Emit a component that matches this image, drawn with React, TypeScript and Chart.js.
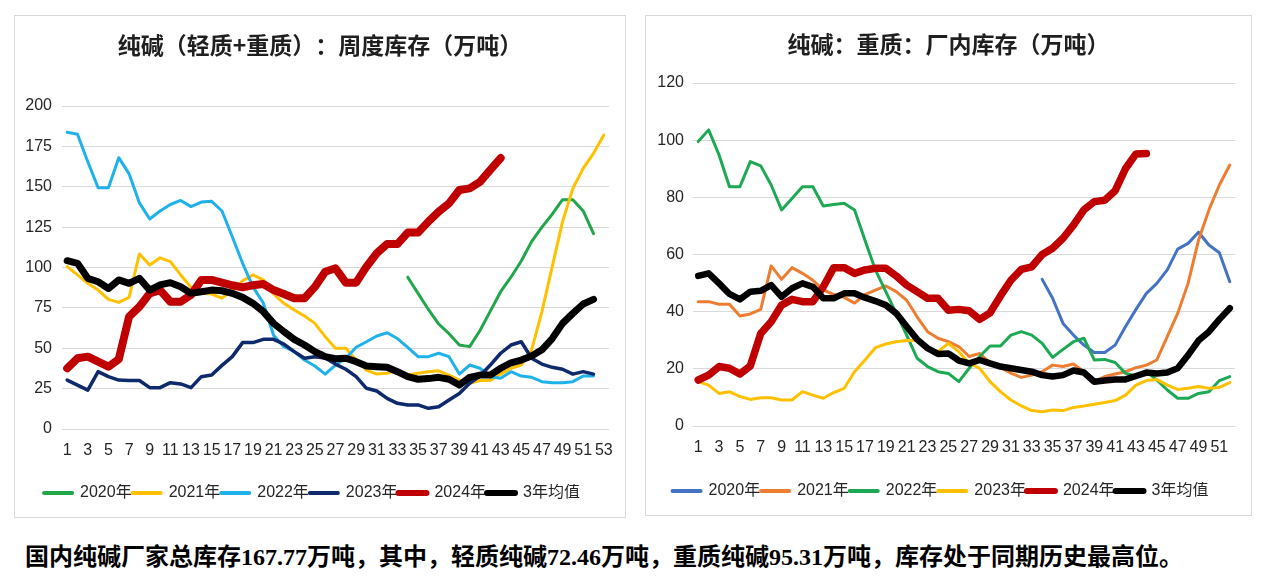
import React, { useEffect, useRef } from 'react';
import { Chart, registerables } from 'chart.js';

Chart.register(...registerables);

// ---------- categories (week numbers) ----------
const weeksLeft: string[] = ['1','2','3','4','5','6','7','8','9','10','11','12','13','14','15','16','17','18','19','20','21','22','23','24','25','26','27','28','29','30','31','32','33','34','35','36','37','38','39','40','41','42','43','44','45','46','47','48','49','50','51','52','53'];
const weeksRight: string[] = ['1','2','3','4','5','6','7','8','9','10','11','12','13','14','15','16','17','18','19','20','21','22','23','24','25','26','27','28','29','30','31','32','33','34','35','36','37','38','39','40','41','42','43','44','45','46','47','48','49','50','51','52'];

// ---------- left chart: 纯碱（轻质+重质）周度库存 ----------
const left2020: (number | null)[] = [null,null,null,null,null,null,null,null,null,null,null,null,null,null,null,null,null,null,null,null,null,null,null,null,null,null,null,null,null,null,null,null,null,
  94, 84, 74, 65, 59, 52, 51, 61, 73, 85, 94, 104, 116, 125, 133, 142, 142, 135, 121];
const left2021: number[] = [100.5, 95.4, 90.2, 86, 80.3, 78.4, 81.5, 108.4, 101.5, 106, 103.6, 95.4, 87.7, 84, 83.6, 81, 86, 91.8, 95.4, 92.3, 83.6, 77.8, 73.7, 70, 65.4, 57.2, 50, 50, 42.7, 36.5, 34, 34.5, 36.5, 33.4, 34.5, 35.5, 36, 33.4, 30.3, 28.3, 30, 30, 34, 37.6, 39.6, 49, 72.7, 100.5, 128.4, 149, 161.4, 170.7, 182];
const left2022: number[] = [183.7, 182.5, 165.5, 149.4, 149.4, 168, 158, 140, 130, 135, 139, 141.5, 137.7, 140.5, 141, 135, 119, 102.6, 88, 78, 58, 51, 48, 42.7, 39, 34, 39.6, 43.8, 50.6, 54, 57.6, 59.6, 56, 50.6, 44.8, 44.8, 46.9, 44.8, 34, 39.6, 37.6, 32.4, 31.4, 35.5, 32.8, 32, 29.3, 28.7, 28.7, 29.3, 32.8, 32.8];
const left2023: number[] = [30.3, 27.2, 24.1, 35.5, 32.4, 30.3, 30, 30, 25.6, 25.6, 28.7, 27.9, 25.6, 32.4, 33.4, 39.4, 44.8, 53.5, 53.5, 55.5, 55.5, 52.6, 47.9, 43.8, 44.8, 44, 40.2, 37, 32.4, 25.2, 23.5, 19, 15.9, 14.9, 14.9, 12.8, 13.8, 18, 22, 28.3, 32.8, 39.6, 46.9, 52, 54, 43.8, 40.2, 38.2, 37, 34, 35.5, 34];
const left2024: number[] = [37.6, 43.8, 44.8, 41.7, 38.6, 43.2, 69.6, 75.7, 84, 86, 78.8, 78.8, 83, 92.3, 92.3, 90.6, 89, 87.7, 89, 89.8, 86, 83.6, 81, 81, 88, 97.4, 99.5, 90.6, 90.6, 100.5, 108.8, 114.5, 114.5, 121.6, 121.6, 128.4, 134.6, 139.7, 148, 149, 153, 160.4, 167.77];
const leftAvg: number[] = [104.2, 102.6, 93.3, 91.2, 87, 92.3, 90.2, 93.3, 86, 89.2, 90.6, 88.1, 84, 85, 86, 85.6, 84, 81.5, 77.8, 72.7, 65.4, 60.3, 55.5, 52, 47.9, 44.8, 43.5, 43.8, 41.7, 39, 38.6, 38.2, 35.5, 32.4, 30.8, 31.2, 32, 30.8, 27.2, 32, 33.4, 33.4, 37.6, 41, 42.7, 45.2, 49, 56, 65.4, 71.6, 77.4, 80.3];

// ---------- right chart: 纯碱：重质：厂内库存 ----------
const right2020: (number | null)[] = [null,null,null,null,null,null,null,null,null,null,null,null,null,null,null,null,null,null,null,null,null,null,null,null,null,null,null,null,null,null,null,null,null,
  51.3, 44.7, 35.9, 31.8, 28.3, 25.7, 25.7, 28.3, 34.8, 40.8, 46.4, 49.9, 54.6, 61.9, 63.9, 67.8, 63.3, 60.6, 50.5];
const right2021: number[] = [43.5, 43.5, 42.6, 42.6, 38.5, 39.2, 40.8, 56, 51.3, 55.4, 53.4, 51, 47.6, 46, 45, 43, 46, 47.5, 49, 47, 44, 38.2, 33, 30.7, 29.5, 27.8, 24.3, 25.4, 22, 20.5, 18.5, 17, 17.8, 19, 21.3, 20.8, 21.7, 19, 15.5, 17.3, 18.2, 19, 20.4, 21.3, 23.1, 31.3, 39.4, 49.9, 65, 75.6, 84.3, 91.3];
const right2022: number[] = [99.5, 103.6, 94.8, 83.7, 83.7, 92.5, 91, 84.3, 75.6, 79.6, 83.7, 83.7, 77, 77.5, 77.9, 75.6, 65, 54.6, 47, 39.4, 31.8, 23.7, 20.8, 19, 18.4, 15.5, 20.2, 24.3, 28, 28, 31.8, 33, 31.8, 28.9, 24, 26.8, 29.5, 30.7, 23.1, 23.3, 22.2, 18.4, 17.5, 19, 16.1, 12.6, 9.7, 9.7, 11.4, 12, 15.9, 17.3];
const right2023: number[] = [15.5, 14.3, 11.4, 12, 10.3, 9.3, 9.9, 9.9, 9.1, 9.1, 12, 10.8, 9.7, 11.7, 13.2, 19, 23.1, 27.4, 28.7, 29.5, 29.9, 30, 27.5, 26, 28.9, 26, 21.9, 20.2, 15.5, 12, 9.1, 7, 5.4, 5, 5.6, 5.4, 6.5, 7, 7.6, 8.2, 8.9, 10.8, 14.3, 15.9, 16.3, 14.3, 12.8, 13.2, 13.8, 13.2, 13.5, 15.2];
const right2024: number[] = [16.1, 17.8, 20.8, 20.2, 18.2, 21, 32.4, 36.5, 42.3, 44.3, 43.5, 43.5, 48.7, 55.4, 55.4, 53.4, 54.6, 55.2, 55.2, 52.5, 49.3, 47, 44.7, 44.7, 40.5, 40.8, 40.3, 37.3, 39.6, 45.5, 51, 54.8, 55.7, 60, 62.2, 65.7, 70.3, 75.6, 78.5, 79, 82.3, 90.1, 95.2, 95.31];
const rightAvg: number[] = [52.5, 53.4, 49.9, 46.2, 44.3, 47, 47.3, 49.3, 45.2, 48.2, 49.9, 48.7, 44.7, 44.7, 46.4, 46.4, 44.9, 43.7, 42.3, 39.4, 34.8, 30.3, 27.2, 25.2, 25.4, 22.9, 21.9, 23.1, 21.9, 20.8, 20.2, 19.6, 19, 17.8, 17.3, 17.8, 19.4, 18.7, 15.5, 15.9, 16.3, 16.3, 17.5, 18.7, 18.4, 18.7, 20.2, 24.8, 29.9, 33, 37.3, 41.2];

const seriesNames: string[] = ['2020年', '2021年', '2022年', '2023年', '2024年', '3年均值'];
const leftColors: string[] = ['#21A649', '#FFC000', '#1EB1EA', '#0E2A6C', '#C00000', '#000000'];
const rightColors: string[] = ['#4472C4', '#ED7D31', '#1DA954', '#FFC000', '#C00000', '#000000'];

const leftTitle = '纯碱（轻质+重质）：周度库存（万吨）';
const rightTitle = '纯碱：重质：厂内库存（万吨）';
const caption = '国内纯碱厂家总库存167.77万吨，其中，轻质纯碱72.46万吨，重质纯碱95.31万吨，库存处于同期历史最高位。';

const TICK_FONT = "'Liberation Sans', 'Noto Sans CJK SC', sans-serif";
const TITLE_FONT = "'Noto Sans CJK SC', 'Noto Sans', sans-serif";
const TEXT_COLOR = '#262626';

type Cfg = {
  labels: string[];
  data: (number | null)[][];
  colors: string[];
  widths: number[];
  legendWidths: number[];
  yMax: number;
  yStep: number;
  yPad: number;
  top: number;
  xHeight: number;
  xPad: number;
};

function buildConfig(p: Cfg): any {
  const n = p.data.length;
  return {
    type: 'line',
    data: {
      labels: p.labels,
      datasets: p.data.map((d, i) => ({
        label: seriesNames[i],
        data: d,
        borderColor: p.colors[i],
        backgroundColor: p.colors[i],
        borderWidth: p.widths[i],
        pointRadius: 0,
        pointHoverRadius: 0,
        tension: 0,
        fill: false,
        spanGaps: false,
        borderCapStyle: 'round',
        borderJoinStyle: 'round',
        order: n - i,
      })),
    },
    options: {
      animation: false,
      responsive: false,
      maintainAspectRatio: false,
      events: [],
      layout: { padding: { top: p.top, left: 0, right: 16, bottom: 6 } },
      plugins: {
        title: { display: false },
        legend: {
          position: 'bottom',
          labels: {
            usePointStyle: true,
            pointStyle: 'line',
            pointStyleWidth: 28,
            boxHeight: 16,
            padding: 1,
            color: TEXT_COLOR,
            font: { family: TICK_FONT, size: 16 },
            sort: (a: any, b: any) => a.datasetIndex - b.datasetIndex,
            generateLabels: (chart: any) => {
              const items = (Chart as any).defaults.plugins.legend.labels.generateLabels(chart);
              return items.map((it: any) => ({
                ...it,
                lineWidth: p.legendWidths[it.datasetIndex],
                lineCap: 'round',
                pointStyle: 'line',
              }));
            },
          },
        },
        tooltip: { enabled: false },
      },
      scales: {
        x: {
          type: 'category',
          offset: true,
          grid: { display: false, drawTicks: false },
          border: { display: false },
          ticks: {
            autoSkip: false,
            maxRotation: 0,
            minRotation: 0,
            padding: p.xPad,
            color: TEXT_COLOR,
            font: { family: TICK_FONT, size: 16 },
            callback: (_v: any, i: number) => (i % 2 === 0 ? p.labels[i] : ''),
          },
          afterFit: (s: any) => { s.height = p.xHeight; },
        },
        y: {
          min: 0,
          max: p.yMax,
          grid: { color: '#d9d9d9', lineWidth: 1, drawTicks: false },
          border: { display: false },
          ticks: {
            stepSize: p.yStep,
            padding: p.yPad,
            color: TEXT_COLOR,
            font: { family: TICK_FONT, size: 16 },
          },
          afterFit: (s: any) => { s.width = 47; },
        },
      },
    },
  };
}

function ChartCanvas({ cfg, width, height }: { cfg: Cfg; width: number; height: number }) {
  const ref = useRef<HTMLCanvasElement | null>(null);
  useEffect(() => {
    if (!ref.current) return;
    const chart = new Chart(ref.current, buildConfig(cfg));
    return () => chart.destroy();
  }, []);
  return <canvas ref={ref} width={width} height={height} style={{ display: 'block', width, height }} />;
}

const leftCfg: Cfg = {
  labels: weeksLeft,
  data: [left2020, left2021, left2022, left2023, left2024, leftAvg],
  colors: leftColors,
  widths: [3, 3, 3, 3.5, 8, 7],
  legendWidths: [4, 4, 4, 4, 6, 6],
  yMax: 200,
  yStep: 25,
  yPad: 10,
  top: 90,
  xHeight: 55,
  xPad: 12,
};

const rightCfg: Cfg = {
  labels: weeksRight,
  data: [right2020, right2021, right2022, right2023, right2024, rightAvg],
  colors: rightColors,
  widths: [3, 3, 3, 3, 7.5, 6.5],
  legendWidths: [4, 4, 4, 4, 6, 6],
  yMax: 120,
  yStep: 20,
  yPad: 9,
  top: 67,
  xHeight: 56,
  xPad: 12,
};

const titleStyle = (top: number): React.CSSProperties => ({
  position: 'absolute',
  left: 0,
  top,
  width: '100%',
  textAlign: 'center',
  fontFamily: TITLE_FONT,
  fontWeight: 'bold',
  fontSize: 23,
  lineHeight: '26px',
  color: '#1f1f1f',
  whiteSpace: 'nowrap',
});

export default function App() {
  return (
    <div style={{ position: 'absolute', left: 0, top: 0, width: 1268, height: 585, background: '#ffffff', overflow: 'hidden' }}>
      <style>{`.cjk-full { text-spacing-trim: space-all; }`}</style>
      <div style={{ position: 'absolute', left: 14, top: 15, width: 610, height: 501, border: '1px solid #d9d9d9' }}>
        <ChartCanvas cfg={leftCfg} width={610} height={501} />
        <div className="cjk-full" style={titleStyle(15)}>{leftTitle}</div>
      </div>
      <div style={{ position: 'absolute', left: 645, top: 15, width: 605, height: 499, border: '1px solid #d9d9d9' }}>
        <ChartCanvas cfg={rightCfg} width={605} height={499} />
        <div className="cjk-full" style={titleStyle(14)}>{rightTitle}</div>
      </div>
      <div
        className="cjk-full"
        style={{
          position: 'absolute',
          left: 25,
          top: 545,
          fontSize: 24,
          lineHeight: '24px',
          fontWeight: 'bold',
          fontFamily: "'Liberation Serif', 'Noto Sans CJK SC', serif",
          color: '#000',
          whiteSpace: 'nowrap',
        }}
      >
        {caption}
      </div>
    </div>
  );
}
